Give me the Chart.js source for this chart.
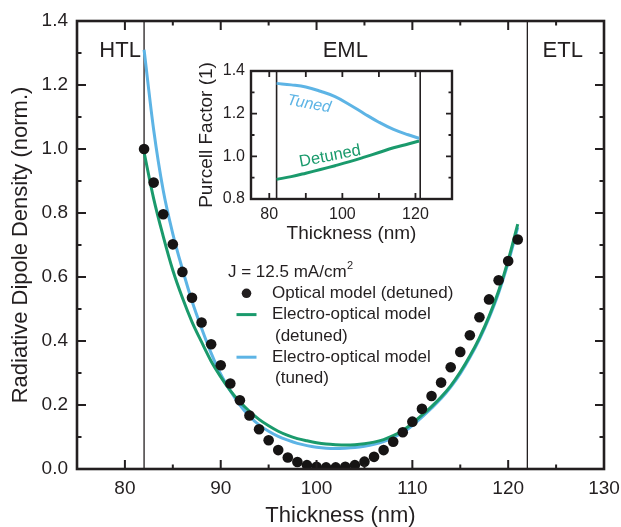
<!DOCTYPE html>
<html>
<head>
<meta charset="utf-8">
<script src="https://cdn.jsdelivr.net/npm/chart.js@4.4.1/dist/chart.umd.min.js"></script>
<style>
  body { margin: 0; background: #fff; }
  #wrap { position: relative; width: 621px; height: 527px; }
  #mainChart { position: absolute; left: 0; top: 0; }
  #insetChart { position: absolute; left: 190px; top: 55px; }
</style>
</head>
<body>
<div id="wrap">
  <canvas id="mainChart" width="621" height="527"></canvas>
  <canvas id="insetChart" width="270" height="190"></canvas>
</div>
<script>
// emission-layer thickness (nm)
var thickness = [82, 83, 84, 85, 86, 87, 88, 89, 90, 91,
                 92, 93, 94, 95, 96, 97, 98, 99, 100, 101,
                 102, 103, 104, 105, 106, 107, 108, 109, 110, 111,
                 112, 113, 114, 115, 116, 117, 118, 119, 120, 121];

// radiative dipole density, normalised
var opticalDetuned = [1.000, 0.895, 0.796, 0.702, 0.616, 0.535, 0.458, 0.390, 0.324, 0.267,
                      0.215, 0.167, 0.124, 0.090, 0.059, 0.036, 0.022, 0.012, 0.007, 0.005,
                      0.005, 0.007, 0.012, 0.023, 0.038, 0.059, 0.085, 0.115, 0.148, 0.188,
                      0.228, 0.270, 0.318, 0.366, 0.418, 0.474, 0.530, 0.590, 0.650, 0.717];
var eoDetuned = [0.990, 0.845, 0.727, 0.621, 0.535, 0.460, 0.397, 0.337, 0.288, 0.245,
                 0.210, 0.180, 0.155, 0.135, 0.118, 0.105, 0.095, 0.088, 0.082, 0.078,
                 0.076, 0.075, 0.076, 0.079, 0.084, 0.092, 0.104, 0.120, 0.143, 0.168,
                 0.195, 0.225, 0.260, 0.303, 0.353, 0.410, 0.477, 0.556, 0.652, 0.765];
var eoTuned = [1.310, 1.060, 0.870, 0.735, 0.625, 0.525, 0.440, 0.362, 0.296, 0.245,
               0.200, 0.165, 0.138, 0.118, 0.102, 0.090, 0.080, 0.073, 0.068, 0.065,
               0.064, 0.065, 0.067, 0.071, 0.077, 0.086, 0.098, 0.114, 0.136, 0.162,
               0.190, 0.220, 0.256, 0.298, 0.348, 0.405, 0.472, 0.550, 0.645, 0.755];

var xMajor = [80, 90, 100, 110, 120, 130];
var xMinor = [75, 85, 95, 105, 115, 125];
var yMajor = [0, 0.2, 0.4, 0.6, 0.8, 1.0, 1.2, 1.4];
var yMinor = [0.1, 0.3, 0.5, 0.7, 0.9, 1.1, 1.3];

var layerNames = ['HTL', 'EML', 'ETL'];
var layerEdges = [82, 122];

var seriesNames = ['Optical model (detuned)', 'Electro-optical model (detuned)', 'Electro-optical model (tuned)'];
var currentDensity = 12.5;

// Purcell factor inset
var insetThickness = [82, 86, 90, 94, 98, 102, 106, 110, 114, 118, 121];
var purcellTuned = [1.342, 1.335, 1.325, 1.305, 1.280, 1.242, 1.200, 1.160, 1.126, 1.101, 1.085];
var purcellDetuned = [0.892, 0.905, 0.921, 0.938, 0.956, 0.975, 0.996, 1.018, 1.040, 1.058, 1.072];
var insetXLabels = [80, 100, 120];
var insetXTicks = [80, 90, 100, 110, 120];
var insetYMajor = [0.8, 1.0, 1.2, 1.4];
var insetYMinor = [0.9, 1.1, 1.3];
var insetEdges = [82, 121.3];

var ink = '#231f20';
var green = '#1a9a6c';
var blue = '#5db4e5';
var family = '"Liberation Sans", Arial, Helvetica, sans-serif';

Chart.defaults.font.family = family;
Chart.defaults.color = ink;

function points(xs, ys) {
    var out = [];
    for (var i = 0; i < xs.length; i++) {
        out.push({ x: xs[i], y: ys[i] });
    }
    return out;
}

function edgeLine(x, yLo, yHi, width) {
    return {
        data: [{ x: x, y: yLo }, { x: x, y: yHi }],
        borderColor: ink,
        borderWidth: width,
        pointRadius: 0
    };
}

// fixed axis band sizes, no extra room for overhanging labels
function fixSize(size) {
    return function(s) {
        if (s.isHorizontal()) s.height = size; else s.width = size;
        s.paddingLeft = s.paddingRight = s.paddingTop = s.paddingBottom = 0;
    };
}

// box around the plot area with inward ticks on all four sides
var framePlugin = {
    id: 'frame',
    afterDatasetsDraw: function(chart, args, o) {
        var ctx = chart.ctx, a = chart.chartArea;
        var xs = chart.scales.x, ys = chart.scales.y;
        ctx.save();
        ctx.strokeStyle = ink;
        ctx.lineWidth = o.tickWidth;
        ctx.beginPath();
        o.xTicks.forEach(function(t) {
            var px = xs.getPixelForValue(t[0]);
            ctx.moveTo(px, a.bottom); ctx.lineTo(px, a.bottom - t[1]);
            ctx.moveTo(px, a.top); ctx.lineTo(px, a.top + t[1]);
        });
        o.yTicks.forEach(function(t) {
            var py = ys.getPixelForValue(t[0]);
            ctx.moveTo(a.left, py); ctx.lineTo(a.left + t[1], py);
            ctx.moveTo(a.right, py); ctx.lineTo(a.right - t[1], py);
        });
        ctx.stroke();
        ctx.lineWidth = o.lineWidth;
        ctx.strokeRect(a.left, a.top, a.right - a.left, a.bottom - a.top);
        ctx.restore();
    }
};

// free text placed in data coordinates
var notesPlugin = {
    id: 'notes',
    afterDatasetsDraw: function(chart, args, o) {
        var ctx = chart.ctx;
        ctx.save();
        ctx.textAlign = 'center';
        ctx.textBaseline = 'middle';
        o.items.forEach(function(n) {
            ctx.save();
            ctx.translate(chart.scales.x.getPixelForValue(n.x), chart.scales.y.getPixelForValue(n.y));
            ctx.rotate((n.angle || 0) * Math.PI / 180);
            ctx.font = n.font;
            ctx.fillStyle = n.color;
            ctx.fillText(n.text, 0, 0);
            ctx.restore();
        });
        ctx.restore();
    }
};

// legend block with the current density heading
var keyPlugin = {
    id: 'keyBox',
    afterDraw: function(chart, args, o) {
        var ctx = chart.ctx;
        var x = o.x, y = o.y, row = o.row;
        ctx.save();
        ctx.fillStyle = ink;
        ctx.textAlign = 'left';
        ctx.textBaseline = 'middle';
        ctx.font = '17px ' + family;
        var head = 'J = ' + currentDensity + ' mA/cm';
        ctx.fillText(head, x, y);
        var w = ctx.measureText(head).width;
        ctx.font = '11px ' + family;
        ctx.fillText('2', x + w + 0.5, y - 6);
        ctx.font = '17px ' + family;

        var symX = x + 18.5, textX = x + 44;
        // dots
        var y1 = y + row;
        ctx.beginPath();
        ctx.arc(symX, y1, 4.8, 0, Math.PI * 2);
        ctx.fill();
        ctx.fillText(seriesNames[0], textX, y1);
        // lines
        var rows = [[seriesNames[1], green, y + 2 * row], [seriesNames[2], blue, y + 4 * row]];
        rows.forEach(function(r) {
            var cut = r[0].indexOf(' (');
            ctx.strokeStyle = r[1];
            ctx.lineWidth = 3;
            ctx.beginPath();
            ctx.moveTo(symX - 10, r[2]);
            ctx.lineTo(symX + 10, r[2]);
            ctx.stroke();
            ctx.fillStyle = ink;
            ctx.fillText(r[0].slice(0, cut), textX, r[2]);
            ctx.fillText(r[0].slice(cut + 1), textX + 3, r[2] + row);
        });
        ctx.restore();
    }
};

function tickPairs(list, len) {
    return list.map(function(v) { return [v, len]; });
}

new Chart(document.getElementById('mainChart'), {
    type: 'line',
    data: {
        datasets: [
            {
                label: seriesNames[0],
                data: points(thickness, opticalDetuned),
                showLine: false,
                pointRadius: 5.3,
                pointBackgroundColor: '#161414',
                pointBorderWidth: 0
            },
            {
                label: seriesNames[1],
                data: points(thickness, eoDetuned),
                borderColor: green,
                borderWidth: 3,
                pointRadius: 0,
                cubicInterpolationMode: 'monotone'
            },
            {
                label: seriesNames[2],
                data: points(thickness, eoTuned),
                borderColor: blue,
                borderWidth: 3,
                pointRadius: 0,
                cubicInterpolationMode: 'monotone'
            },
            edgeLine(layerEdges[0], 0, 1.4, 1.3),
            edgeLine(layerEdges[1], 0, 1.4, 1.3)
        ]
    },
    options: {
        responsive: false,
        animation: false,
        devicePixelRatio: 1,
        events: [],
        layout: { padding: { left: 0, right: 17, top: 21, bottom: 0 } },
        scales: {
            x: {
                type: 'linear',
                min: 75,
                max: 130,
                afterBuildTicks: function(s) { s.ticks = xMajor.map(function(v) { return { value: v }; }); },
                afterFit: fixSize(58),
                grid: { display: false, drawTicks: false },
                border: { display: false },
                ticks: { font: { size: 19 }, padding: 8 },
                title: {
                    display: true,
                    text: 'Thickness (nm)',
                    font: { size: 22, lineHeight: 1.0 },
                    padding: { top: 0, bottom: 0 }
                }
            },
            y: {
                type: 'linear',
                min: 0,
                max: 1.4,
                afterBuildTicks: function(s) { s.ticks = yMajor.map(function(v) { return { value: v }; }); },
                afterFit: fixSize(77),
                grid: { display: false, drawTicks: false },
                border: { display: false },
                ticks: {
                    font: { size: 19 },
                    padding: 9,
                    callback: function(v) { return v.toFixed(1); }
                },
                title: {
                    display: true,
                    text: 'Radiative Dipole Density (norm.)',
                    font: { size: 22, lineHeight: 1.0 },
                    padding: { top: 10, bottom: 0 }
                }
            }
        },
        plugins: {
            legend: { display: false },
            tooltip: { enabled: false },
            frame: {
                lineWidth: 2.6,
                tickWidth: 2,
                xTicks: tickPairs(xMajor, 9).concat(tickPairs(xMinor, 4.5)),
                yTicks: tickPairs(yMajor, 9).concat(tickPairs(yMinor, 4.5))
            },
            notes: {
                items: [
                    { text: layerNames[0], x: 79.5, y: 1.306, font: '22px ' + family, color: ink },
                    { text: layerNames[1], x: 103, y: 1.306, font: '22px ' + family, color: ink },
                    { text: layerNames[2], x: 125.7, y: 1.306, font: '22px ' + family, color: ink }
                ]
            },
            keyBox: { x: 228, y: 272, row: 21.3 }
        }
    },
    plugins: [framePlugin, notesPlugin, keyPlugin]
});

new Chart(document.getElementById('insetChart'), {
    type: 'line',
    data: {
        datasets: [
            {
                label: 'Tuned',
                data: points(insetThickness, purcellTuned),
                borderColor: blue,
                borderWidth: 3,
                pointRadius: 0,
                tension: 0.4
            },
            {
                label: 'Detuned',
                data: points(insetThickness, purcellDetuned),
                borderColor: green,
                borderWidth: 3,
                pointRadius: 0,
                tension: 0.4
            },
            edgeLine(insetEdges[0], 0.8, 1.4, 1.6),
            edgeLine(insetEdges[1], 0.8, 1.4, 1.6)
        ]
    },
    options: {
        responsive: false,
        animation: false,
        devicePixelRatio: 1,
        events: [],
        layout: { padding: { left: 0, right: 8, top: 16, bottom: 0 } },
        scales: {
            x: {
                type: 'linear',
                min: 75,
                max: 130,
                afterBuildTicks: function(s) { s.ticks = insetXLabels.map(function(v) { return { value: v }; }); },
                afterFit: fixSize(46),
                grid: { display: false, drawTicks: false },
                border: { display: false },
                ticks: { font: { size: 16 }, padding: 6 },
                title: {
                    display: true,
                    text: 'Thickness (nm)',
                    font: { size: 19, lineHeight: 1.0 },
                    padding: { top: 0, bottom: 2 }
                }
            },
            y: {
                type: 'linear',
                min: 0.8,
                max: 1.4,
                afterBuildTicks: function(s) { s.ticks = insetYMajor.map(function(v) { return { value: v }; }); },
                afterFit: fixSize(61),
                grid: { display: false, drawTicks: false },
                border: { display: false },
                ticks: {
                    font: { size: 16 },
                    padding: 6,
                    callback: function(v) { return v.toFixed(1); }
                },
                title: {
                    display: true,
                    text: 'Purcell Factor (1)',
                    font: { size: 19, lineHeight: 1.0 },
                    padding: { top: 7, bottom: 0 }
                }
            }
        },
        plugins: {
            legend: { display: false },
            tooltip: { enabled: false },
            frame: {
                lineWidth: 2.4,
                tickWidth: 1.8,
                xTicks: tickPairs(insetXTicks, 6),
                yTicks: tickPairs(insetYMajor, 6).concat(tickPairs(insetYMinor, 3.5))
            },
            notes: {
                items: [
                    { text: 'Tuned', x: 90.9, y: 1.245, angle: 10, font: 'italic 16px ' + family, color: blue },
                    { text: 'Detuned', x: 96.6, y: 1.0, angle: -11, font: '16.5px ' + family, color: green }
                ]
            }
        }
    },
    plugins: [framePlugin, notesPlugin]
});
</script>
</body>
</html>
